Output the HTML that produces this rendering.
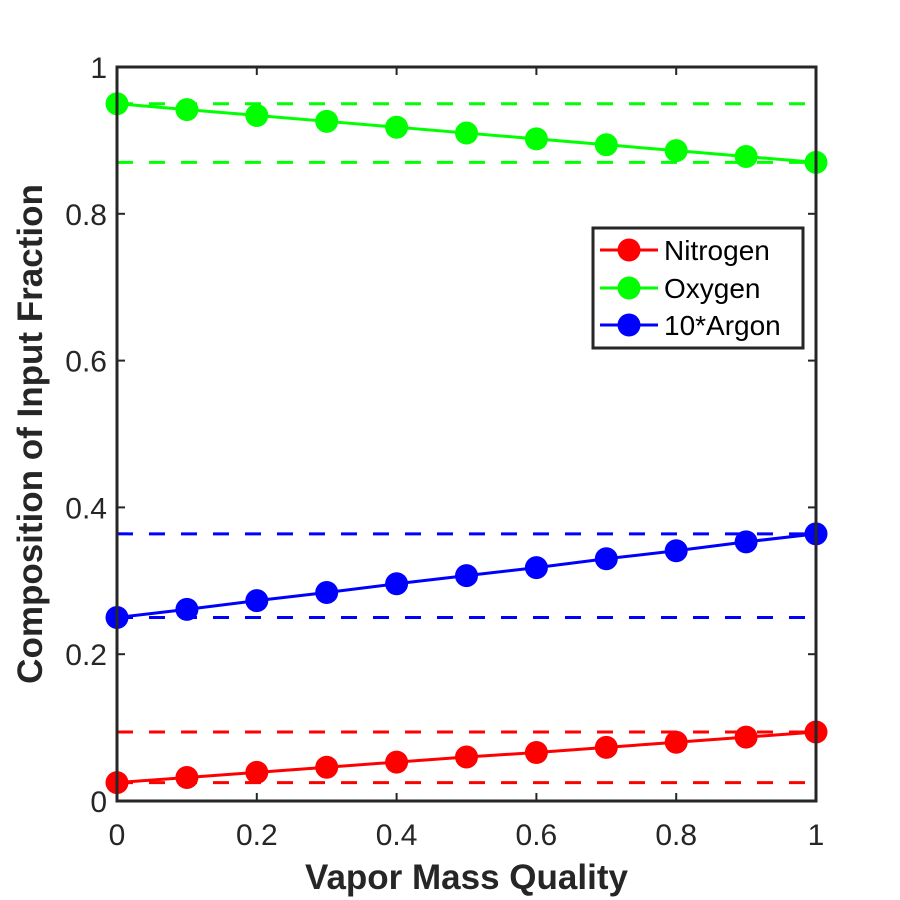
<!DOCTYPE html>
<html><head><meta charset="utf-8"><style>body{margin:0;background:#fff}svg{display:block}</style></head>
<body>
<svg id="chart" width="900" height="900" viewBox="0 0 900 900" font-family="'Liberation Sans', sans-serif"></svg>
<script>
const xValues=[0,0.1,0.2,0.3,0.4,0.5,0.6,0.7,0.8,0.9,1];
const nitrogen=[0.025,0.032,0.039,0.046,0.053,0.060,0.066,0.073,0.080,0.087,0.094];
const oxygen=[0.950,0.942,0.934,0.926,0.918,0.910,0.902,0.894,0.886,0.878,0.870];
const argon10=[0.250,0.261,0.273,0.284,0.296,0.307,0.318,0.330,0.341,0.353,0.364];
const xTicks=[0,0.2,0.4,0.6,0.8,1];
const xTickLabels=["0","0.2","0.4","0.6","0.8","1"];
const yTicks=[0,0.2,0.4,0.6,0.8,1];
const yTickLabels=["0","0.2","0.4","0.6","0.8","1"];
const seriesNames=["Nitrogen","Oxygen","10*Argon"];

const L=117,R=816,T=67,B=801;
const sx=v=>L+v*(R-L), sy=v=>B-v*(B-T);
const svg=document.getElementById('chart');
const NS='http://www.w3.org/2000/svg';
function mk(tag,attrs,parent){const e=document.createElementNS(NS,tag);for(const k in attrs)e.setAttribute(k,attrs[k]);(parent||svg).appendChild(e);return e;}

const series=[{d:nitrogen,c:'#ff0000',n:'nitrogen'},{d:oxygen,c:'#00ff00',n:'oxygen'},{d:argon10,c:'#0000ff',n:'argon'}];
series.forEach(s=>{
  const g=mk('g',{});
  
  
  [Math.min(...s.d),Math.max(...s.d)].forEach((v,i)=>{
    const l=mk('line',{x1:L,x2:R,y1:sy(v),y2:sy(v),stroke:s.c,'stroke-width':3,'stroke-dasharray':'16 16'},g);
    
    
  });
  const p=mk('polyline',{points:s.d.map((v,i)=>sx(xValues[i])+','+sy(v)).join(' '),fill:'none',stroke:s.c,'stroke-width':3},g);
  
  
  s.d.forEach((v,i)=>{
    const c=mk('circle',{cx:sx(xValues[i]),cy:sy(v),r:11.5,fill:s.c},g);
    
    
  });
});

const box=mk('rect',{x:L,y:T,width:R-L,height:B-T,fill:'none',stroke:'#262626','stroke-width':3});


xTicks.forEach((v,i)=>{
  mk('line',{x1:sx(v),x2:sx(v),y1:B,y2:B-8,stroke:'#262626','stroke-width':2});
  mk('line',{x1:sx(v),x2:sx(v),y1:T,y2:T+8,stroke:'#262626','stroke-width':2});
  const t=mk('text',{x:sx(v),y:B+44,'text-anchor':'middle','font-size':30,fill:'#262626'});
  t.textContent=xTickLabels[i];
  
  
});
yTicks.forEach((v,i)=>{
  mk('line',{x1:L,x2:L+8,y1:sy(v),y2:sy(v),stroke:'#262626','stroke-width':2});
  mk('line',{x1:R,x2:R-8,y1:sy(v),y2:sy(v),stroke:'#262626','stroke-width':2});
  const t=mk('text',{x:L-10,y:sy(v)+11,'text-anchor':'end','font-size':30,fill:'#262626'});
  t.textContent=yTickLabels[i];
  
  
});
const xt=mk('text',{x:(L+R)/2,y:889,'text-anchor':'middle','font-size':35,'font-weight':'bold',fill:'#262626'});
xt.textContent='Vapor Mass Quality';


const yt=mk('text',{x:0,y:0,transform:'translate(42,434) rotate(-90)','text-anchor':'middle','font-size':35,'font-weight':'bold',fill:'#262626'});
yt.textContent='Composition of Input Fraction';



const lg=mk('g',{});


mk('rect',{x:593,y:228,width:210,height:120,fill:'#fff',stroke:'#262626','stroke-width':3},lg);
const rowsY=[250,288,325];
series.forEach((s,i)=>{
  const e=mk('g',{},lg);
  
  
  mk('line',{x1:600,x2:658,y1:rowsY[i],y2:rowsY[i],stroke:s.c,'stroke-width':3},e);
  mk('circle',{cx:629,cy:rowsY[i],r:11.5,fill:s.c},e);
  const t=mk('text',{x:664,y:rowsY[i]+10,'font-size':28,fill:'#000'},e);
  t.textContent=seriesNames[i];
});
</script>
</body></html>
